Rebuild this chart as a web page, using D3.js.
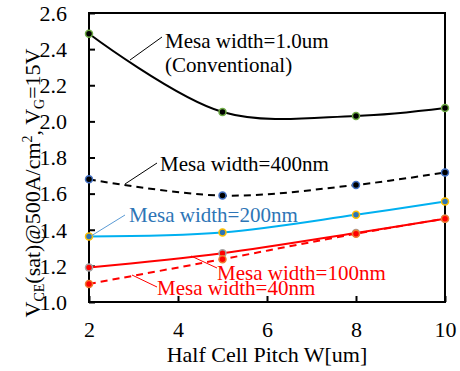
<!DOCTYPE html>
<html>
<head>
<meta charset="utf-8">
<script src="https://cdn.jsdelivr.net/npm/d3@7"></script>
<style>
  html, body { margin: 0; padding: 0; background: #fff; }
</style>
</head>
<body>
<svg id="chart" width="460" height="371"></svg>
<script>
// Half cell pitch W [um]
const pitch = [2, 5, 8, 10];

// VCE(sat) at 500 A/cm², VG = 15 V, per mesa width
const mesa1000 = [2.485, 2.052, 2.030, 2.074];
const mesa400  = [1.679, 1.589, 1.648, 1.717];
const mesa200  = [1.363, 1.385, 1.483, 1.556];
const mesa100  = [1.191, 1.270, 1.382, 1.461];
const mesa40   = [1.100, 1.237, 1.378, 1.461];

const xTicks = [2, 4, 6, 8, 10];
const yTicks = [1.0, 1.2, 1.4, 1.6, 1.8, 2.0, 2.2, 2.4, 2.6];

const SERIF = '"Liberation Serif"';

const series = [
  { name: "1.0um", values: mesa1000, line: "#000000", dash: null,  fill: "#000000", ring: "#70ad47" },
  { name: "400nm", values: mesa400,  line: "#000000", dash: "7,5", fill: "#000000", ring: "#4472c4" },
  { name: "200nm", values: mesa200,  line: "#00b0f0", dash: null,  fill: "#2e75b6", ring: "#ffc000" },
  { name: "100nm", values: mesa100,  line: "#ff0000", dash: null,  fill: "#ff0000", ring: "#a5a5a5" },
  { name: "40nm",  values: mesa40,   line: "#ff0000", dash: "7,5", fill: "#ff0000", ring: "#ed7d31" }
];

const svg = d3.select("#chart");
const m = { left: 89, top: 13, right: 15, bottom: 69 };
const W = 460 - m.left - m.right;
const H = 371 - m.top - m.bottom;

const x = d3.scaleLinear().domain([2, 10]).range([0, W]);
const y = d3.scaleLinear().domain([1.0, 2.6]).range([H, 0]);

const g = svg.append("g").attr("transform", `translate(${m.left},${m.top})`);

// Axes with inward ticks
const yAxis = g.append("g")
  .call(d3.axisLeft(y).tickValues(yTicks).tickFormat(d3.format(".1f")).tickSizeInner(-6).tickSizeOuter(0));
const xAxis = g.append("g").attr("transform", `translate(0,${H})`)
  .call(d3.axisBottom(x).tickValues(xTicks).tickFormat(d3.format("d")).tickSizeInner(-6).tickSizeOuter(0));

[yAxis, xAxis].forEach(a => {
  a.select(".domain").remove();
  a.selectAll(".tick line").attr("stroke", "#000").attr("stroke-width", 2);
  a.selectAll(".tick text")
    .style("font-family", SERIF).style("font-size", "22px").attr("fill", "#000");
});
yAxis.selectAll(".tick text").attr("x", -22).attr("dy", "0.33em");
xAxis.selectAll(".tick text").attr("y", 19).attr("dy", "0.71em");

// Plot frame
g.append("rect").attr("x", 0).attr("y", 0).attr("width", W).attr("height", H)
  .attr("fill", "none").attr("stroke", "#000").attr("stroke-width", 2);

// Curves
const lineGen = d3.line()
  .x((d, i) => x(pitch[i]))
  .y(d => y(d))
  .curve(d3.curveCatmullRom.alpha(0.5));

series.forEach(s => {
  g.append("path")
    .attr("d", lineGen(s.values))
    .attr("fill", "none")
    .attr("stroke", s.line)
    .attr("stroke-width", 2)
    .attr("stroke-dasharray", s.dash);
});

series.forEach(s => {
  g.selectAll(null).data(s.values).enter().append("circle")
    .attr("cx", (d, i) => x(pitch[i]))
    .attr("cy", d => y(d))
    .attr("r", 3.5)
    .attr("fill", s.fill)
    .attr("stroke", s.ring)
    .attr("stroke-width", 1.5);
});

// Series annotations with leader lines
const notes = [
  { lines: ["Mesa width=1.0um", "(Conventional)"], x: 165, y: 48, color: "#000", lead: [[162, 37], [130, 60]] },
  { lines: ["Mesa width=400nm"], x: 160, y: 171, color: "#000", lead: [[157, 163], [125, 184]] },
  { lines: ["Mesa width=200nm"], x: 129, y: 222, color: "#2e75b6", lead: [[125, 215], [91, 236]], leadColor: "#5b9bd5" },
  { lines: ["Mesa width=100nm"], x: 217, y: 280, color: "#ff0000", lead: [[217, 268], [191, 256]] },
  { lines: ["Mesa width=40nm"], x: 157, y: 295, color: "#ff0000", lead: [[157, 287], [132, 275]] }
];

notes.forEach(n => {
  svg.append("line")
    .attr("x1", n.lead[0][0]).attr("y1", n.lead[0][1])
    .attr("x2", n.lead[1][0]).attr("y2", n.lead[1][1])
    .attr("stroke", n.leadColor || n.color).attr("stroke-width", 1);
  n.lines.forEach((t, i) => {
    svg.append("text")
      .attr("x", n.x).attr("y", n.y + i * 24)
      .style("font-family", SERIF).style("font-size", "21px")
      .attr("fill", n.color)
      .text(t);
  });
});

// Axis titles
svg.append("text")
  .attr("x", m.left + W / 2).attr("y", 362)
  .attr("text-anchor", "middle")
  .style("font-family", SERIF).style("font-size", "22px")
  .text("Half Cell Pitch W[um]");

const yt = svg.append("text")
  .attr("transform", "translate(40,183) rotate(-90)")
  .attr("text-anchor", "middle")
  .style("font-family", SERIF).style("font-size", "22px");
yt.append("tspan").text("V");
yt.append("tspan").style("font-size", "14px").attr("dy", 4).text("CE");
yt.append("tspan").attr("dy", -4).text("(sat)@500A/cm");
yt.append("tspan").style("font-size", "14px").attr("dy", -8).text("2");
yt.append("tspan").attr("dy", 8).text(", V");
yt.append("tspan").style("font-size", "14px").attr("dy", 4).text("G");
yt.append("tspan").attr("dy", -4).text("=15V");
</script>
</body>
</html>
